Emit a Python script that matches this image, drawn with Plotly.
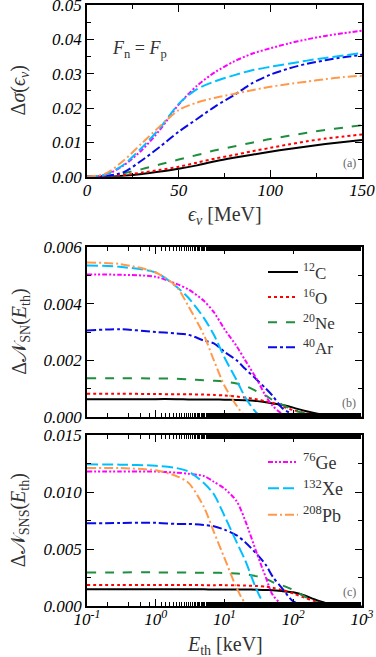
import plotly.graph_objects as go
from plotly.subplots import make_subplots

# panel (a): cross section difference vs neutrino energy
e_nu = [0, 10, 20, 30, 40, 50, 60, 70, 80, 90, 100, 110, 120, 130, 140, 150]
c12_a = [0, 0.0, 0.0003, 0.0008, 0.0015, 0.0023, 0.0033, 0.0045, 0.0055, 0.0064, 0.0073, 0.0081, 0.0088, 0.0095, 0.0101, 0.0107]
o16_a = [0, 0.0001, 0.0005, 0.0012, 0.002, 0.0029, 0.0041, 0.0053, 0.0063, 0.0074, 0.0084, 0.0094, 0.0103, 0.0111, 0.0117, 0.0123]
ne20_a = [0, 0.0002, 0.001, 0.0022, 0.0036, 0.005, 0.0063, 0.0077, 0.0088, 0.0099, 0.0110, 0.0119, 0.0128, 0.0136, 0.0143, 0.015]
ar40_a = [0, 0.0002, 0.0013, 0.0048, 0.0088, 0.0131, 0.0168, 0.0205, 0.0237, 0.0272, 0.0297, 0.0315, 0.0329, 0.0339, 0.0348, 0.0355]
ge76_a = [0, 0.0005, 0.0033, 0.0078, 0.0138, 0.021, 0.0265, 0.0305, 0.0335, 0.0358, 0.0374, 0.0388, 0.04, 0.041, 0.0418, 0.0425]
xe132_a = [0, 0.0006, 0.0035, 0.0085, 0.0143, 0.0212, 0.0255, 0.0278, 0.0295, 0.031, 0.032, 0.0329, 0.0338, 0.0346, 0.0353, 0.036]
pb208_a = [0, 0.0009, 0.0047, 0.0098, 0.0148, 0.0194, 0.0216, 0.023, 0.0241, 0.0252, 0.0262, 0.027, 0.0277, 0.0284, 0.029, 0.0294]

# panels (b), (c): event difference vs threshold energy
e_th = [0.1, 0.3, 1, 2, 3, 5, 7, 10, 15, 20, 30, 40, 50, 70, 100, 150, 200, 300, 500, 1000]
c12_sn = [0.00063, 0.00063, 0.00063, 0.00063, 0.00062, 0.00062, 0.00062, 0.00061, 0.0006, 0.00059, 0.00056, 0.00052, 0.00048, 0.00042, 0.00033, 0.00021, 0.00014, 0.00006, 0.00001, 0.0]
o16_sn = [0.00082, 0.00082, 0.00081, 0.0008, 0.0008, 0.00079, 0.00078, 0.00076, 0.00072, 0.00069, 0.00062, 0.00055, 0.0005, 0.00037, 0.00024, 0.00014, 0.00009, 0.00004, 0.00001, 0.0]
ne20_sn = [0.00137, 0.00137, 0.00136, 0.00135, 0.00133, 0.0013, 0.00128, 0.00125, 0.00118, 0.0011, 0.0009, 0.00075, 0.0006, 0.00043, 0.00025, 0.00012, 0.00007, 0.00002, 0.0, 0.0]
ar40_sn = [0.00305, 0.0031, 0.003, 0.00295, 0.0029, 0.0027, 0.0026, 0.0023, 0.002, 0.0017, 0.0013, 0.001, 0.00075, 0.0003, 0.0001, 0.00002, 0.0, 0.0, 0.0, 0.0]
ge76_sn = [0.00503, 0.00502, 0.00495, 0.0047, 0.0045, 0.0041, 0.0037, 0.0031, 0.0025, 0.002, 0.0013, 0.00073, 0.0004, 0.0001, 0.0, 0.0, 0.0, 0.0, 0.0, 0.0]
xe132_sn = [0.00535, 0.0053, 0.0051, 0.0046, 0.0042, 0.0035, 0.0029, 0.0021, 0.0013, 0.0007, 0.00012, 0.0, 0.0, 0.0, 0.0, 0.0, 0.0, 0.0, 0.0, 0.0]
pb208_sn = [0.00545, 0.0054, 0.0051, 0.0046, 0.0039, 0.0029, 0.002, 0.0011, 0.0004, 0.00005, 0.0, 0.0, 0.0, 0.0, 0.0, 0.0, 0.0, 0.0, 0.0, 0.0]

c12_sns = [0.00146, 0.00146, 0.00146, 0.00146, 0.00146, 0.00146, 0.00145, 0.00145, 0.00145, 0.00145, 0.00143, 0.0014, 0.00138, 0.0013, 0.0012, 0.0009, 0.0006, 0.00025, 0.00005, 0.0]
o16_sns = [0.00184, 0.00184, 0.00184, 0.00184, 0.00184, 0.00183, 0.00183, 0.00183, 0.00181, 0.0018, 0.00175, 0.0017, 0.0016, 0.0014, 0.0011, 0.0007, 0.00045, 0.00015, 0.00002, 0.0]
ne20_sns = [0.00295, 0.00295, 0.00295, 0.00294, 0.00293, 0.00292, 0.00291, 0.0029, 0.00285, 0.0028, 0.0026, 0.0024, 0.0021, 0.0018, 0.0014, 0.0008, 0.0004, 0.0001, 0.0, 0.0]
ar40_sns = [0.00725, 0.00728, 0.0073, 0.0072, 0.0072, 0.0071, 0.007, 0.0067, 0.0062, 0.0056, 0.0045, 0.0036, 0.0026, 0.0015, 0.0004, 0.00005, 0.0, 0.0, 0.0, 0.0]
ge76_sns = [0.0118, 0.0118, 0.0118, 0.0117, 0.0116, 0.0114, 0.0109, 0.0103, 0.0092, 0.0075, 0.0045, 0.0025, 0.001, 0.0001, 0.0, 0.0, 0.0, 0.0, 0.0, 0.0]
xe132_sns = [0.01243, 0.0124, 0.0123, 0.0121, 0.0118, 0.0108, 0.0098, 0.0079, 0.0056, 0.004, 0.0013, 0.0, 0.0, 0.0, 0.0, 0.0, 0.0, 0.0, 0.0, 0.0]
pb208_sns = [0.0121, 0.0121, 0.0119, 0.0114, 0.0108, 0.0087, 0.0065, 0.0042, 0.0016, 0.0003, 0.0, 0.0, 0.0, 0.0, 0.0, 0.0, 0.0, 0.0, 0.0, 0.0]

log_tickvals = [0.1, 1, 10, 100, 1000]
log_ticktext = ["10<sup>-1</sup>", "10<sup>0</sup>", "10<sup>1</sup>", "10<sup>2</sup>", "10<sup>3</sup>"]

names = ["<sup>12</sup>C", "<sup>16</sup>O", "<sup>20</sup>Ne", "<sup>40</sup>Ar",
         "<sup>76</sup>Ge", "<sup>132</sup>Xe", "<sup>208</sup>Pb"]
colors = ["#000000", "#ff0000", "#1f8f3f", "#0a0ae6", "#ff00ff", "#00bfff", "#ff9a4d"]
dashes = ["solid", "dot", "dash", "dashdot", "5px,2px,2px,2px,2px,2px", "11px,4px", "9px,3px,2px,3px"]

panel_a = [c12_a, o16_a, ne20_a, ar40_a, ge76_a, xe132_a, pb208_a]
panel_b = [c12_sn, o16_sn, ne20_sn, ar40_sn, ge76_sn, xe132_sn, pb208_sn]
panel_c = [c12_sns, o16_sns, ne20_sns, ar40_sns, ge76_sns, xe132_sns, pb208_sns]

SERIF = "Liberation Serif"

fig = make_subplots(rows=3, cols=1)

for i in range(7):
    line = dict(color=colors[i], dash=dashes[i], width=2, shape="spline", smoothing=0.8)
    fig.add_trace(go.Scatter(x=e_nu, y=panel_a[i], mode="lines", line=line, showlegend=False), row=1, col=1)
    fig.add_trace(go.Scatter(x=e_th, y=panel_b[i], mode="lines", line=line, name=names[i],
                             showlegend=i < 4, legend="legend"), row=2, col=1)
    fig.add_trace(go.Scatter(x=e_th, y=panel_c[i], mode="lines", line=line, name=names[i],
                             showlegend=i >= 4, legend="legend2"), row=3, col=1)

tickfont = dict(family=SERIF, size=17, style="italic", color="black")
frame = dict(showline=True, linecolor="black", linewidth=1.5, mirror="ticks", ticks="inside",
             ticklen=7, tickwidth=1, tickcolor="black", showgrid=False, zeroline=False,
             tickfont=tickfont, automargin=False, ticklabeloverflow="allow")

fig.update_xaxes(**frame)
fig.update_yaxes(**frame)
fig.update_xaxes(ticklabelstandoff=-3)

fig.update_xaxes(range=[0, 150], dtick=50, tick0=0, minor=dict(dtick=25, ticks="inside", ticklen=4, tickcolor="black"),
                 row=1, col=1)
for r in (2, 3):
    fig.update_xaxes(type="log", range=[-1, 3], tickvals=log_tickvals, ticktext=log_ticktext,
                     minor=dict(ticks="inside", ticklen=4, tickcolor="black"), row=r, col=1)
fig.update_xaxes(showticklabels=False, row=2, col=1)

fig.update_yaxes(range=[0, 0.05], dtick=0.01, tickformat=".2f",
                 minor=dict(dtick=0.005, ticks="inside", ticklen=4, tickcolor="black"),
                 domain=[0.7143, 1], row=1, col=1)
fig.update_yaxes(range=[0, 0.006], dtick=0.002, tickformat=".3f",
                 minor=dict(dtick=0.001, ticks="inside", ticklen=4, tickcolor="black"),
                 domain=[0.3145, 0.5973], row=2, col=1)
fig.update_yaxes(range=[0, 0.015], dtick=0.005, tickformat=".3f",
                 minor=dict(dtick=0.0025, ticks="inside", ticklen=4, tickcolor="black"),
                 domain=[0, 0.2845], row=3, col=1)

title_font = dict(family=SERIF, size=20, color="#333333")

ann = []
# axis titles
ytitles = [("y domain", "Δ<i>σ</i>(<i>ϵ</i><sub><i>ν</i></sub>)"),
           ("y2 domain", "Δ𝒩<sub>SN</sub>(<i>E</i><sub>th</sub>)"),
           ("y3 domain", "Δ𝒩<sub>SNS</sub>(<i>E</i><sub>th</sub>)")]
for yref, txt in ytitles:
    ann.append(dict(text=txt, xref="paper", yref=yref, x=-0.245, y=0.5, textangle=-90,
                    showarrow=False, font=title_font, xanchor="center", yanchor="middle"))
ann.append(dict(text="<i>ϵ</i><sub><i>ν</i></sub> [MeV]", xref="paper", yref="paper", x=0.5, y=0.649,
                showarrow=False, font=title_font, xanchor="center", yanchor="middle"))
ann.append(dict(text="<i>E</i><sub>th</sub> [keV]", xref="paper", yref="paper", x=0.5, y=-0.066,
                showarrow=False, font=title_font, xanchor="center", yanchor="middle"))
# panel tags
for xref, yref, lab in [("x domain", "y domain", "(a)"), ("x2 domain", "y2 domain", "(b)"),
                        ("x3 domain", "y3 domain", "(c)")]:
    ann.append(dict(text=lab, xref=xref, yref=yref, x=0.985, y=0.03, xanchor="right", yanchor="bottom",
                    showarrow=False, font=dict(family=SERIF, size=12, color="#666666")))
ann.append(dict(text="<i>F</i><sub>n</sub> = <i>F</i><sub>p</sub>", xref="x domain", yref="y domain",
                x=0.085, y=0.74, xanchor="left", yanchor="middle", showarrow=False,
                font=dict(family=SERIF, size=18, color="#333333")))

legend_style = dict(bgcolor="rgba(0,0,0,0)", xanchor="left", yanchor="top", itemwidth=30, tracegroupgap=0)

fig.update_layout(
    width=376, height=657,
    margin=dict(l=87, r=14, t=5, b=51, autoexpand=False),
    paper_bgcolor="white", plot_bgcolor="white",
    annotations=ann,
    legend=dict(x=0.64, y=0.585, font=dict(family=SERIF, size=17, color="#333333"), **legend_style),
    legend2=dict(x=0.64, y=0.27, font=dict(family=SERIF, size=18, color="#333333"), **legend_style),
)

fig.write_html("out.html", config={"displayModeBar": False},
               post_script="document.body.style.margin='0px';")
